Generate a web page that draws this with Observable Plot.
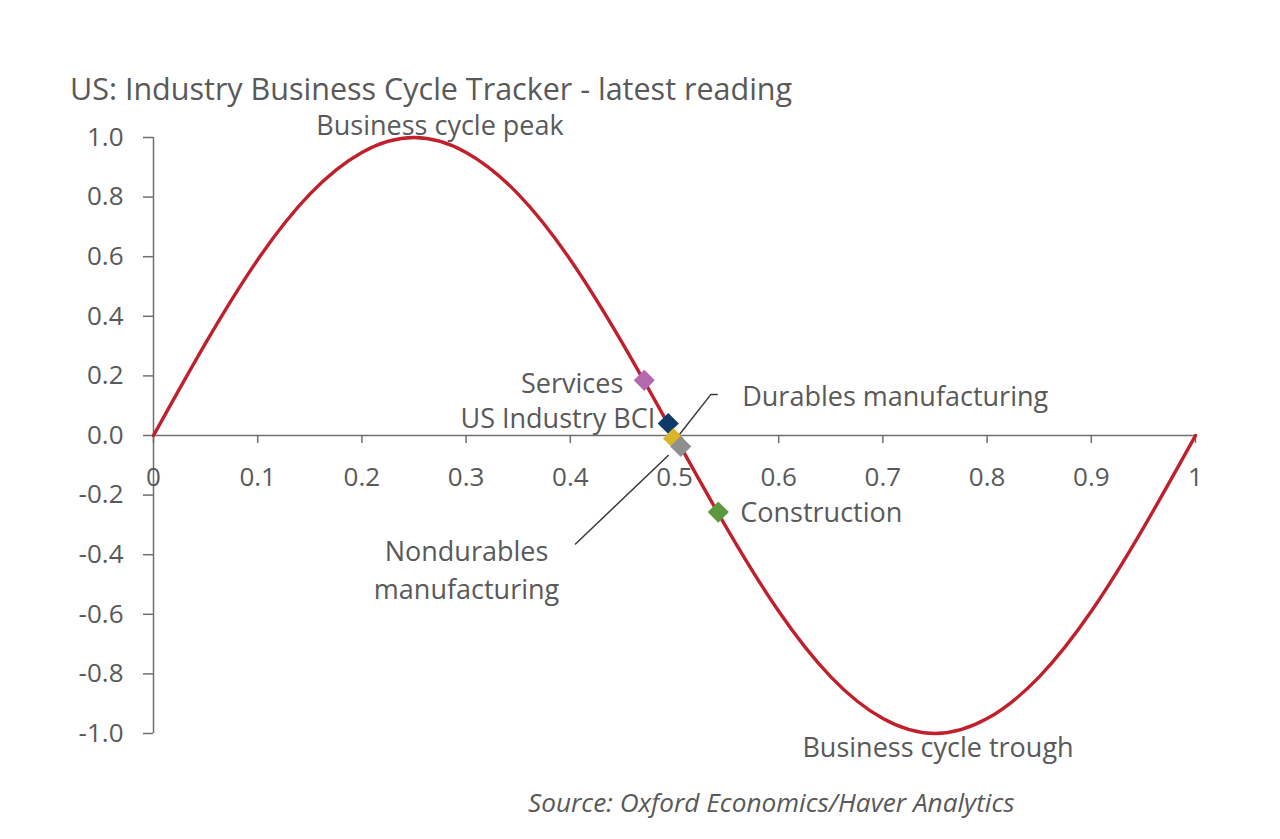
<!DOCTYPE html>
<html>
<head>
<meta charset="utf-8">
<script src="https://cdn.jsdelivr.net/npm/d3@7"></script>
<script src="https://cdn.jsdelivr.net/npm/@observablehq/plot@0.6"></script>
<style>
  html, body { margin: 0; padding: 0; background: #fff; }
  body { width: 1280px; height: 839px; overflow: hidden; font-family: "Open Sans", "Noto Sans", sans-serif; color: #595959; }
  #head { position: relative; height: 110px; }
  #title { position: absolute; left: 70px; top: 73px; font-size: 30.5px; line-height: 1; white-space: nowrap; }
  #chart svg { display: block; overflow: visible; }
  #caption { position: relative; height: 40px; }
  #caption span { position: absolute; left: 528px; top: -4px; font-size: 26.2px; line-height: 32px; font-style: italic; white-space: nowrap; }
</style>
</head>
<body>
<div id="head"><div id="title">US: Industry Business Cycle Tracker - latest reading</div></div>
<div id="chart"></div>
<div id="caption"><span>Source: Oxford Economics/Haver Analytics</span></div>
<script>
// Business cycle curve
const cycleX = [0, 0.05, 0.1, 0.15, 0.2, 0.25, 0.3, 0.35, 0.4, 0.45, 0.5, 0.55, 0.6, 0.65, 0.7, 0.75, 0.8, 0.85, 0.9, 0.95, 1];
const cycleY = [0, 0.31, 0.59, 0.81, 0.95, 1.0, 0.95, 0.81, 0.59, 0.31, 0, -0.31, -0.59, -0.81, -0.95, -1.0, -0.95, -0.81, -0.59, -0.31, 0];

// Latest readings
const sectors = ["Services", "US Industry BCI", "Durables manufacturing", "Nondurables manufacturing", "Construction"];
const sectorX = [0.471, 0.494, 0.499, 0.506, 0.542];
const sectorY = [0.185, 0.04, -0.01, -0.037, -0.257];
const sectorColors = ["#b468ad", "#0d3a6b", "#d9b52c", "#8f8f8f", "#5a9a3c"];

// Leader line ends for Durables and Nondurables
const leaderDurX = [0.504, 0.535, 0.541];
const leaderDurY = [0.0, 0.138, 0.138];
const leaderNonX = [0.494, 0.405];
const leaderNonY = [-0.067, -0.364];

// Peak / trough annotations
const phaseLabels = ["Business cycle peak", "Business cycle trough"];
const phaseX = [0.25, 0.75];
const phaseY = [1, -1];

// Axis ticks
const xTicks = [0, 0.1, 0.2, 0.3, 0.4, 0.5, 0.6, 0.7, 0.8, 0.9, 1];
const xTickLabels = ["0", "0.1", "0.2", "0.3", "0.4", "0.5", "0.6", "0.7", "0.8", "0.9", "1"];
const yTicks = [-1, -0.8, -0.6, -0.4, -0.2, 0, 0.2, 0.4, 0.6, 0.8, 1];

const curve = cycleX.map((x, i) => ({x, y: cycleY[i]}));
const pts = sectors.map((name, i) => ({name, x: sectorX[i], y: sectorY[i], color: sectorColors[i]}));
const durLeader = leaderDurX.map((x, i) => ({x, y: leaderDurY[i]}));
const nonLeader = leaderNonX.map((x, i) => ({x, y: leaderNonY[i]}));
const phases = phaseLabels.map((t, i) => ({t, x: phaseX[i], y: phaseY[i]}));
const xt = xTicks.map((x, i) => ({x, label: xTickLabels[i]}));

const grey = "#595959";
const axisGrey = "#6f6f6f";
const fontSize = 27;
const tickFont = 26;

const plot = Plot.plot({
  width: 1280,
  height: 680,
  marginTop: 27,
  marginBottom: 57,
  marginLeft: 153,
  marginRight: 85,
  style: {fontFamily: '"Open Sans", "Noto Sans", sans-serif', fontSize: "20px", color: grey, background: "transparent", overflow: "visible"},
  x: {domain: [0, 1], axis: null},
  y: {domain: [-1, 1], axis: null},
  marks: [
    Plot.axisY({ticks: yTicks, tickFormat: d => d.toFixed(1), tickSize: 10, tickPadding: 20, fontSize: tickFont, stroke: axisGrey, strokeWidth: 1.5, fill: grey, label: null}),
    Plot.ruleX([0], {stroke: axisGrey, strokeWidth: 1.5}),
    Plot.ruleY([0], {stroke: axisGrey, strokeWidth: 1.5}),
    Plot.ruleX(xt, {x: "x", y1: 0, y2: -0.027, stroke: axisGrey, strokeWidth: 1.5}),
    Plot.text(xt, {x: "x", y: 0, dy: 42, text: "label", fontSize: tickFont, fill: grey}),
    Plot.line(curve, {x: "x", y: "y", curve: "natural", stroke: "#c0202b", strokeWidth: 3.4}),
    Plot.line(durLeader, {x: "x", y: "y", stroke: "#3a3a3a", strokeWidth: 1.5}),
    Plot.line(nonLeader, {x: "x", y: "y", stroke: "#3a3a3a", strokeWidth: 1.5}),
    Plot.dot(pts, {x: "x", y: "y", symbol: "diamond2", r: 9.5, fill: "color", stroke: "none"}),
    // labels
    Plot.text([pts[0]], {x: "x", y: "y", text: "name", textAnchor: "end", dx: -21, dy: 4, fontSize, fill: grey}),
    Plot.text([pts[1]], {x: "x", y: "y", text: "name", textAnchor: "end", dx: -13, dy: -4, fontSize, fill: grey}),
    Plot.text([durLeader[2]], {x: "x", y: "y", text: () => sectors[2], textAnchor: "start", dx: 25, dy: 3, fontSize, fill: grey}),
    Plot.text([nonLeader[1]], {x: "x", y: "y", text: () => "Nondurables\nmanufacturing", textAnchor: "middle", lineHeight: 1.41, dx: -109, dy: 24, fontSize, fill: grey}),
    Plot.text([pts[4]], {x: "x", y: "y", text: "name", textAnchor: "start", dx: 22, dy: 1, fontSize, fill: grey}),
    Plot.text([phases[0]], {x: "x", y: "y", text: "t", textAnchor: "middle", dx: 26, dy: -11, fontSize, fill: grey}),
    Plot.text([phases[1]], {x: "x", y: "y", text: "t", textAnchor: "middle", dx: 3, dy: 15, fontSize, fill: grey})
  ]
});
document.getElementById("chart").appendChild(plot);
</script>
</body>
</html>
